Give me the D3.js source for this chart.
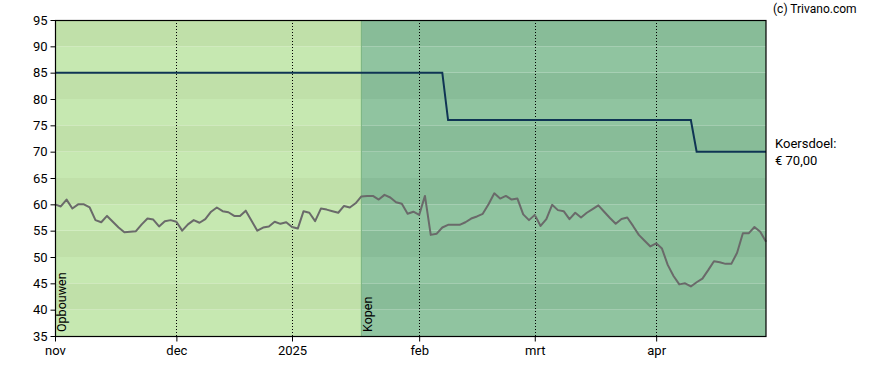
<!DOCTYPE html>
<html><head><meta charset="utf-8">
<script src="https://cdn.jsdelivr.net/npm/d3@7"></script>
<style>body{margin:0;background:#fff}svg{display:block}text{font-family:Roboto,Arial,sans-serif}</style>
</head><body><svg id="c" width="888" height="370"></svg>
<script>
// Daily closing prices (trading days, 1 Nov 2024 .. end Apr 2025)
const prices = [60.0,59.6,60.9,59.2,60.0,60.0,59.4,57.0,56.6,57.8,56.7,55.6,54.7,54.8,54.9,56.2,57.3,57.1,55.8,56.8,57.0,
56.7,55.0,56.2,57.0,56.5,57.2,58.6,59.4,58.7,58.5,57.8,57.8,58.8,56.9,55.0,55.6,55.8,56.7,56.3,56.6,
55.7,55.4,58.7,58.4,56.8,59.2,59.0,58.7,58.4,59.7,59.4,60.2,61.5,61.6,61.6,60.9,61.8,61.3,60.4,60.1,58.2,58.6,
58.0,61.6,54.2,54.4,55.6,56.1,56.1,56.1,56.6,57.3,57.7,58.2,60.0,62.1,61.1,61.6,60.9,61.1,58.1,57.0,
58.0,55.9,57.2,59.9,58.9,58.7,57.2,58.4,57.5,58.4,59.1,59.8,58.6,57.4,56.3,57.2,57.5,55.9,54.2,53.1,52.0,
52.6,51.6,48.5,46.4,44.8,45.0,44.4,45.2,45.9,47.5,49.2,49.0,48.7,48.7,50.8,54.5,54.5,55.7,54.8,52.9];
// Price target (koersdoel) per trading day
const targetLevels = [85, 76, 70];
const targetChangeIdx = [68, 111];
const targets = prices.map((_, i) => i < targetChangeIdx[0] ? targetLevels[0] : (i < targetChangeIdx[1] ? targetLevels[1] : targetLevels[2]));
const monthLabels = ["nov","dec","2025","feb","mrt","apr"];
const monthIdx = [0,21,41,63,83,104];
const yTicks = [35,40,45,50,55,60,65,70,75,80,85,90,95];
const phaseNames = ["Opbouwen","Kopen"];
const phaseStart = [0,53];
const targetLabel = ["Koersdoel:", "€ 70,00"];
const credit = "(c) Trivano.com";

const svg = d3.select("#c");
const L = 55, R = 766, T = 20, B = 336;
const x = d3.scaleLinear().domain([0, prices.length - 1]).range([L, R]);
const y = d3.scaleLinear().domain([35, 95]).range([B, T]);

// phase backgrounds with bands
const phaseColors = [["#c0e0a9","#c6e8b1"],["#88bc98","#90c4a0"]];
const bands = d3.range(35, 95, 5);
phaseStart.forEach((s, p) => {
  const x0 = x(s), x1 = p + 1 < phaseStart.length ? x(phaseStart[p+1]) : R;
  bands.forEach(b => {
    const dark = ((95 - (b + 5)) / 5) % 2 === 0;
    svg.append("rect").attr("x", x0).attr("width", x1 - x0)
      .attr("y", y(b + 5)).attr("height", y(b) - y(b + 5))
      .attr("fill", dark ? phaseColors[p][0] : phaseColors[p][1]);
  });
  if (p > 0) svg.append("line").attr("x1", x0).attr("x2", x0).attr("y1", T).attr("y2", B)
      .attr("stroke", "#78b27e").attr("stroke-width", 1);
  svg.append("text").attr("transform", `translate(${x0 + 11},${B - 4}) rotate(-90)`)
    .attr("font-size", 12.5).attr("fill", "#000").text(phaseNames[p]);
});

// dotted month lines
monthIdx.slice(1).forEach(i => {
  svg.append("line").attr("x1", Math.round(x(i)) + 0.5).attr("x2", Math.round(x(i)) + 0.5)
    .attr("y1", T).attr("y2", B).attr("stroke", "#000").attr("stroke-dasharray", "1,2");
});

// price line
svg.append("path").datum(prices).attr("fill", "none").attr("stroke", "#6a6a6a").attr("stroke-width", 2)
  .attr("stroke-linejoin", "round")
  .attr("d", d3.line().x((d, i) => x(i)).y(d => y(d)));
// target line
svg.append("path").datum(targets).attr("fill", "none").attr("stroke", "#0f3454").attr("stroke-width", 2)
  .attr("d", d3.line().x((d, i) => x(i)).y(d => y(d)));

// frame
svg.append("rect").attr("x", L + 0.5).attr("y", T + 0.5).attr("width", R - L - 0.5).attr("height", B - T)
  .attr("fill", "none").attr("stroke", "#000").attr("stroke-width", 1.2);

// axes
const yAxis = d3.axisLeft(y).tickValues(yTicks).tickSize(5).tickPadding(3);
const gy = svg.append("g").attr("transform", `translate(${L + 0.5},0)`).call(yAxis);
gy.select(".domain").remove();
gy.selectAll("text").attr("font-size", 13).attr("fill", "#000").attr("font-family", "Roboto,Arial,sans-serif");
gy.selectAll("line").attr("stroke", "#000");

const xAxis = d3.axisBottom(x).tickValues(monthIdx).tickFormat((d, i) => monthLabels[i]).tickSize(5).tickPadding(4);
const gx = svg.append("g").attr("transform", `translate(0,${B + 0.5})`).call(xAxis);
gx.select(".domain").remove();
gx.selectAll("text").attr("font-size", 13).attr("fill", "#000").attr("font-family", "Roboto,Arial,sans-serif");
gx.selectAll("line").attr("stroke", "#000");

// labels
svg.append("text").attr("x", 773).attr("y", 13).attr("font-size", 12).attr("fill", "#000").text(credit);
targetLabel.forEach((t, i) => svg.append("text").attr("x", 775).attr("y", 148 + i * 17)
  .attr("font-size", 13).attr("fill", "#000").text(t));
</script></body></html>
